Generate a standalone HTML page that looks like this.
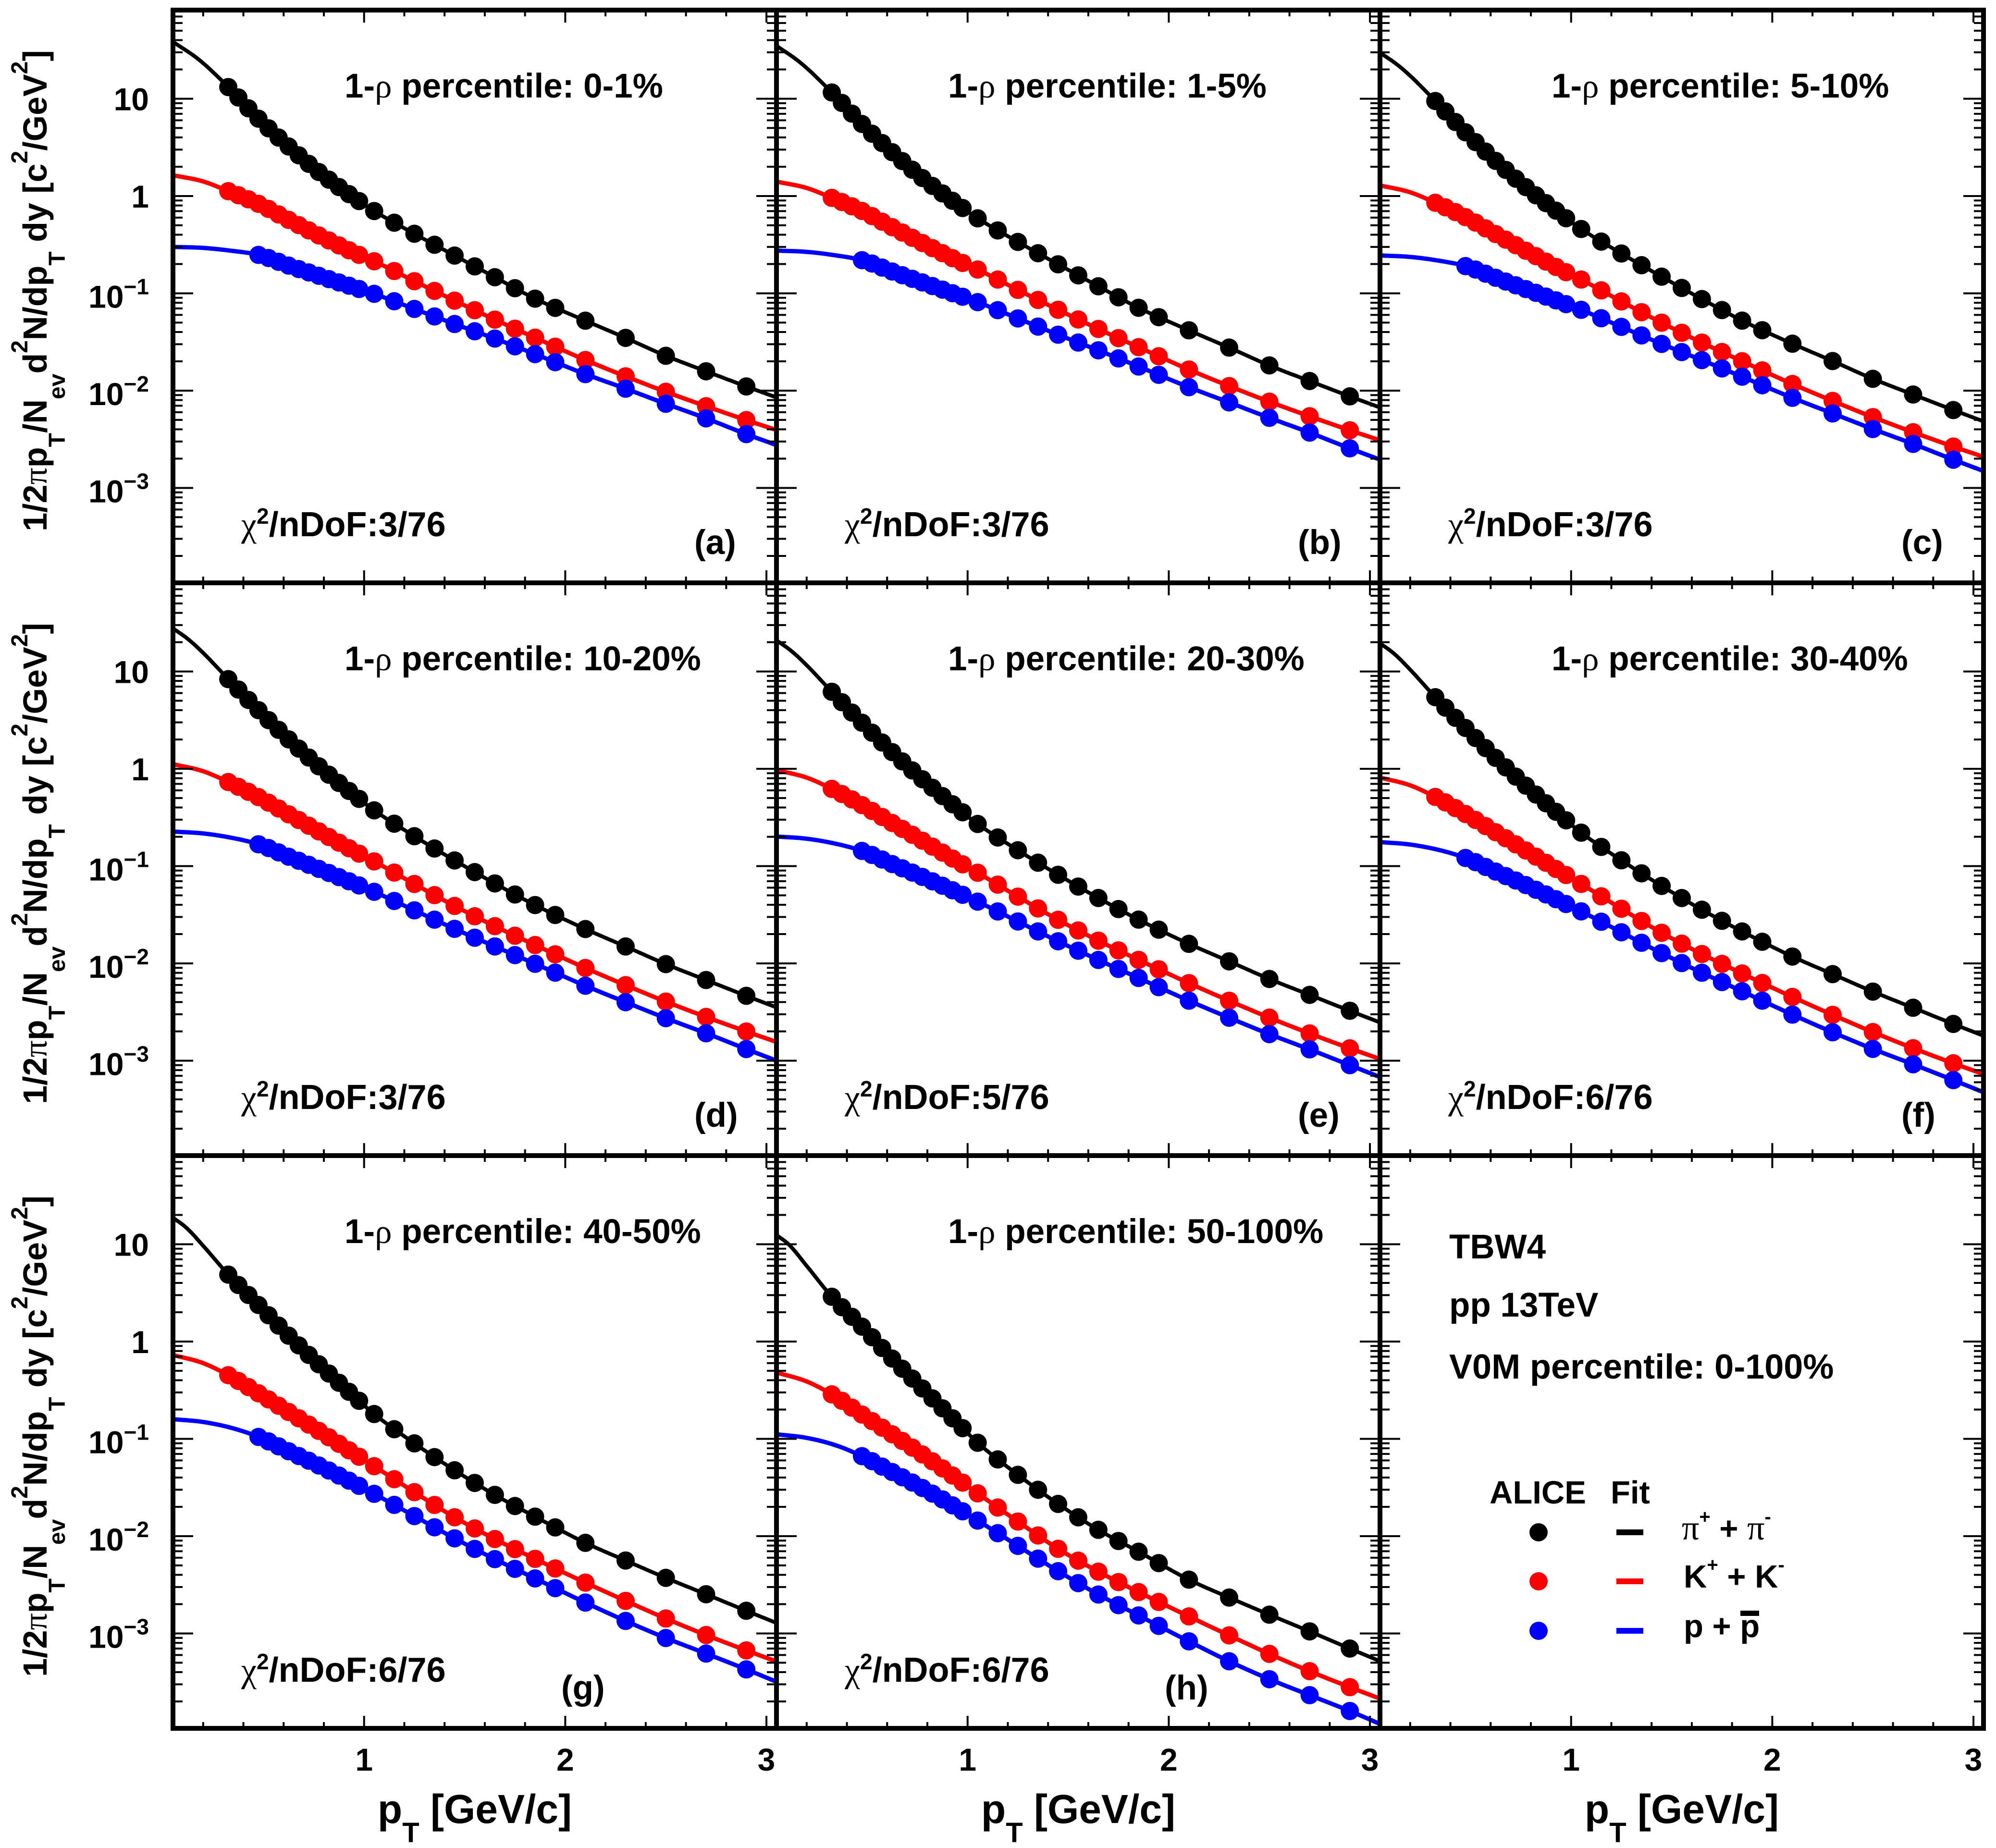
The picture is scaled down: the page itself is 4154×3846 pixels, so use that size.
<!DOCTYPE html>
<html><head><meta charset="utf-8">
<style>
html,body{margin:0;padding:0;background:#fff;overflow:hidden;}
svg{display:block;}
text{font-family:"Liberation Sans",Arial,sans-serif;font-weight:bold;fill:#000;}
.gr{font-family:"Liberation Serif","DejaVu Serif",serif;font-weight:normal;}
.t{font-size:71px;}
.c2{font-size:72px;}
.tl{font-size:66px;}
.xt{font-size:84px;}
.yt{font-size:70px;}
.lg{font-size:67px;}
</style></head>
<body>
<svg id="root" xmlns="http://www.w3.org/2000/svg" width="4154" height="3846" viewBox="0 0 4154 3846">
<rect x="0" y="0" width="4154" height="3846" fill="#fff"/>
<g id="plots"></g>

<!-- panel titles -->
<text class="t" x="717" y="203">1-<tspan class="gr">ρ</tspan> percentile: 0-1%</text>
<text class="t" x="1973" y="203">1-<tspan class="gr">ρ</tspan> percentile: 1-5%</text>
<text class="t" x="3229" y="203">1-<tspan class="gr">ρ</tspan> percentile: 5-10%</text>
<text class="t" x="717" y="1395">1-<tspan class="gr">ρ</tspan> percentile: 10-20%</text>
<text class="t" x="1973" y="1395">1-<tspan class="gr">ρ</tspan> percentile: 20-30%</text>
<text class="t" x="3229" y="1395">1-<tspan class="gr">ρ</tspan> percentile: 30-40%</text>
<text class="t" x="717" y="2587">1-<tspan class="gr">ρ</tspan> percentile: 40-50%</text>
<text class="t" x="1973" y="2587">1-<tspan class="gr">ρ</tspan> percentile: 50-100%</text>

<!-- chi2 -->
<text class="c2" x="502" y="1116"><tspan class="gr">χ</tspan><tspan dy="-26" font-size="46">2</tspan><tspan dy="26">/nDoF:3/76</tspan></text>
<text class="c2" x="1758" y="1116"><tspan class="gr">χ</tspan><tspan dy="-26" font-size="46">2</tspan><tspan dy="26">/nDoF:3/76</tspan></text>
<text class="c2" x="3014" y="1116"><tspan class="gr">χ</tspan><tspan dy="-26" font-size="46">2</tspan><tspan dy="26">/nDoF:3/76</tspan></text>
<text class="c2" x="502" y="2308"><tspan class="gr">χ</tspan><tspan dy="-26" font-size="46">2</tspan><tspan dy="26">/nDoF:3/76</tspan></text>
<text class="c2" x="1758" y="2308"><tspan class="gr">χ</tspan><tspan dy="-26" font-size="46">2</tspan><tspan dy="26">/nDoF:5/76</tspan></text>
<text class="c2" x="3014" y="2308"><tspan class="gr">χ</tspan><tspan dy="-26" font-size="46">2</tspan><tspan dy="26">/nDoF:6/76</tspan></text>
<text class="c2" x="502" y="3500"><tspan class="gr">χ</tspan><tspan dy="-26" font-size="46">2</tspan><tspan dy="26">/nDoF:6/76</tspan></text>
<text class="c2" x="1758" y="3500"><tspan class="gr">χ</tspan><tspan dy="-26" font-size="46">2</tspan><tspan dy="26">/nDoF:6/76</tspan></text>

<!-- panel letters -->
<text class="t" x="1445" y="1153">(a)</text>
<text class="t" x="2701" y="1153">(b)</text>
<text class="t" x="3957" y="1153">(c)</text>
<text class="t" x="1445" y="2345">(d)</text>
<text class="t" x="2701" y="2345">(e)</text>
<text class="t" x="3957" y="2345">(f)</text>
<text class="t" x="1168" y="3537">(g)</text>
<text class="t" x="2424" y="3537">(h)</text>

<!-- y tick labels row 1 -->
<text class="tl" x="310" y="229.5" text-anchor="end">10</text>
<text class="tl" x="310" y="432" text-anchor="end">1</text>
<text class="tl" x="310" y="640.5" text-anchor="end">10<tspan dy="-28" font-size="46">−1</tspan></text>
<text class="tl" x="310" y="843" text-anchor="end">10<tspan dy="-28" font-size="46">−2</tspan></text>
<text class="tl" x="310" y="1045.5" text-anchor="end">10<tspan dy="-28" font-size="46">−3</tspan></text>
<!-- row 2 -->
<text class="tl" x="310" y="1421.5" text-anchor="end">10</text>
<text class="tl" x="310" y="1624" text-anchor="end">1</text>
<text class="tl" x="310" y="1832.5" text-anchor="end">10<tspan dy="-28" font-size="46">−1</tspan></text>
<text class="tl" x="310" y="2035" text-anchor="end">10<tspan dy="-28" font-size="46">−2</tspan></text>
<text class="tl" x="310" y="2237.5" text-anchor="end">10<tspan dy="-28" font-size="46">−3</tspan></text>
<!-- row 3 -->
<text class="tl" x="310" y="2613.5" text-anchor="end">10</text>
<text class="tl" x="310" y="2816" text-anchor="end">1</text>
<text class="tl" x="310" y="3024.5" text-anchor="end">10<tspan dy="-28" font-size="46">−1</tspan></text>
<text class="tl" x="310" y="3227" text-anchor="end">10<tspan dy="-28" font-size="46">−2</tspan></text>
<text class="tl" x="310" y="3429.5" text-anchor="end">10<tspan dy="-28" font-size="46">−3</tspan></text>

<!-- x tick labels -->
<text class="tl" x="757.7" y="3685" text-anchor="middle">1</text>
<text class="tl" x="1176.3" y="3685" text-anchor="middle">2</text>
<text class="tl" x="1595" y="3685" text-anchor="middle">3</text>
<text class="tl" x="2013.7" y="3685" text-anchor="middle">1</text>
<text class="tl" x="2432.3" y="3685" text-anchor="middle">2</text>
<text class="tl" x="2851" y="3685" text-anchor="middle">3</text>
<text class="tl" x="3269.7" y="3685" text-anchor="middle">1</text>
<text class="tl" x="3688.3" y="3685" text-anchor="middle">2</text>
<text class="tl" x="4107" y="3685" text-anchor="middle">3</text>

<!-- x titles -->
<text class="xt" x="988" y="3794" text-anchor="middle">p<tspan dy="40" font-size="58">T</tspan><tspan dy="-40"> [GeV/c]</tspan></text>
<text class="xt" x="2244" y="3794" text-anchor="middle">p<tspan dy="40" font-size="58">T</tspan><tspan dy="-40"> [GeV/c]</tspan></text>
<text class="xt" x="3500" y="3794" text-anchor="middle">p<tspan dy="40" font-size="58">T</tspan><tspan dy="-40"> [GeV/c]</tspan></text>

<!-- y titles -->
<text class="yt" transform="translate(97,605) rotate(-90)" text-anchor="middle">1/2<tspan class="gr">π</tspan>p<tspan dy="38" font-size="48">T</tspan><tspan dy="-38">/N</tspan><tspan dy="38" font-size="48">ev</tspan><tspan dy="-38">d</tspan><tspan dy="-40" font-size="48">2</tspan><tspan dy="40">N/dp</tspan><tspan dy="38" font-size="48">T</tspan><tspan dy="-38"> dy [c</tspan><tspan dy="-40" font-size="48">2</tspan><tspan dy="40">/GeV</tspan><tspan dy="-40" font-size="48">2</tspan><tspan dy="40">]</tspan></text>
<text class="yt" transform="translate(97,1797) rotate(-90)" text-anchor="middle">1/2<tspan class="gr">π</tspan>p<tspan dy="38" font-size="48">T</tspan><tspan dy="-38">/N</tspan><tspan dy="38" font-size="48">ev</tspan><tspan dy="-38">d</tspan><tspan dy="-40" font-size="48">2</tspan><tspan dy="40">N/dp</tspan><tspan dy="38" font-size="48">T</tspan><tspan dy="-38"> dy [c</tspan><tspan dy="-40" font-size="48">2</tspan><tspan dy="40">/GeV</tspan><tspan dy="-40" font-size="48">2</tspan><tspan dy="40">]</tspan></text>
<text class="yt" transform="translate(97,2989) rotate(-90)" text-anchor="middle">1/2<tspan class="gr">π</tspan>p<tspan dy="38" font-size="48">T</tspan><tspan dy="-38">/N</tspan><tspan dy="38" font-size="48">ev</tspan><tspan dy="-38">d</tspan><tspan dy="-40" font-size="48">2</tspan><tspan dy="40">N/dp</tspan><tspan dy="38" font-size="48">T</tspan><tspan dy="-38"> dy [c</tspan><tspan dy="-40" font-size="48">2</tspan><tspan dy="40">/GeV</tspan><tspan dy="-40" font-size="48">2</tspan><tspan dy="40">]</tspan></text>

<!-- info panel -->
<text x="3016" y="2619" font-size="71">TBW4</text>
<text x="3016" y="2740" font-size="71">pp 13TeV</text>
<text x="3016" y="2869" font-size="72">V0M percentile: 0-100%</text>

<!-- legend -->
<text class="lg" x="3100" y="3129">ALICE</text>
<text class="lg" x="3352" y="3129">Fit</text>
<circle cx="3202" cy="3189" r="19" fill="#000"/>
<circle cx="3202" cy="3291" r="19" fill="#f00"/>
<circle cx="3202" cy="3394" r="19" fill="#00f"/>
<rect x="3364" y="3183" width="56" height="12" fill="#000"/>
<rect x="3364" y="3285" width="56" height="12" fill="#f00"/>
<rect x="3364" y="3388" width="56" height="12" fill="#00f"/>
<text class="lg" x="3500" y="3204"><tspan class="gr" font-size="72">π</tspan><tspan dy="-34" font-size="40">+</tspan><tspan dy="34"> + </tspan><tspan class="gr" font-size="72">π</tspan><tspan dy="-34" font-size="40">-</tspan></text>
<text class="lg" x="3504" y="3304">K<tspan dy="-34" font-size="40">+</tspan><tspan dy="34"> + K</tspan><tspan dy="-34" font-size="40">-</tspan></text>
<text class="lg" x="3504" y="3407">p + p</text>
<rect x="3622" y="3352" width="39" height="11" fill="#000"/>
</svg>

<script>
(function(){
var NS="http://www.w3.org/2000/svg";
var root=document.getElementById('plots');
function el(tag,attrs,parent){var e=document.createElementNS(NS,tag);for(var k in attrs)e.setAttribute(k,attrs[k]);(parent||root).appendChild(e);return e;}
var colX=[360,1616,2872], rowY=[21,1213,2405], W=1256, H=1192, PX=418.667, DEC=202.5, TOP=1.911;
function X(c,p){return colX[c]+(p-0.05)*PX;}
function Y(r,l){return rowY[r]+(TOP-l)*DEC;}
function mono(pts){
  var n=pts.length,xs=[],ys=[],d=[],m=[],i;
  for(i=0;i<n;i++){xs.push(pts[i][0]);ys.push(pts[i][1]);}
  for(i=0;i<n-1;i++)d.push((ys[i+1]-ys[i])/(xs[i+1]-xs[i]));
  m[0]=d[0];m[n-1]=d[n-2];
  for(i=1;i<n-1;i++){ if(d[i-1]*d[i]<=0)m[i]=0; else m[i]=(d[i-1]+d[i])/2; }
  for(i=0;i<n-1;i++){ if(d[i]==0){m[i]=0;m[i+1]=0;continue;} var a=m[i]/d[i],b=m[i+1]/d[i],s=a*a+b*b; if(s>9){var t=3/Math.sqrt(s);m[i]=t*a*d[i];m[i+1]=t*b*d[i];} }
  return function(x){
    var i=0; while(i<n-2 && x>xs[i+1]) i++;
    var h=xs[i+1]-xs[i], t=(x-xs[i])/h, t2=t*t, t3=t2*t;
    return (2*t3-3*t2+1)*ys[i]+(t3-2*t2+t)*h*m[i]+(-2*t3+3*t2)*ys[i+1]+(t3-t2)*h*m[i+1];
  };
}
var A={
 k:mono([[0.05,1.585],[0.18,1.40],[0.325,1.12],[0.475,0.795],[0.625,0.509],[0.775,0.247],[0.975,-0.052],[1.05,-0.154],[1.25,-0.388],[1.45,-0.612],[1.65,-0.834],[1.85,-1.055],[2.1,-1.281],[2.3,-1.458],[2.5,-1.642],[2.7,-1.801],[2.9,-1.957],[3.05,-2.07]]),
 r:mono([[0.05,0.214],[0.2,0.15],[0.325,0.05],[0.475,-0.08],[0.625,-0.245],[0.775,-0.405],[0.975,-0.605],[1.05,-0.67],[1.25,-0.875],[1.45,-1.075],[1.65,-1.27],[1.85,-1.456],[2.1,-1.685],[2.3,-1.853],[2.5,-2.012],[2.7,-2.16],[2.9,-2.303],[3.05,-2.405]]),
 b:mono([[0.05,-0.523],[0.2,-0.533],[0.35,-0.565],[0.475,-0.605],[0.625,-0.715],[0.775,-0.82],[0.975,-0.955],[1.05,-1.005],[1.25,-1.16],[1.45,-1.315],[1.65,-1.465],[1.85,-1.625],[2.1,-1.83],[2.3,-1.98],[2.5,-2.135],[2.7,-2.285],[2.9,-2.447],[3.05,-2.56]])
};
var Hh={
 k:mono([[0.05,1.094],[0.11,1.0],[0.21,0.752],[0.325,0.46],[0.475,0.153],[0.625,-0.175],[0.775,-0.482],[0.975,-0.89],[1.05,-1.04],[1.25,-1.37],[1.45,-1.669],[1.65,-1.935],[1.85,-2.16],[2.1,-2.447],[2.3,-2.631],[2.5,-2.807],[2.7,-2.979],[2.9,-3.155],[3.05,-3.285]]),
 r:mono([[0.05,-0.318],[0.2,-0.41],[0.325,-0.543],[0.475,-0.75],[0.625,-0.953],[0.775,-1.16],[0.975,-1.45],[1.05,-1.56],[1.25,-1.85],[1.45,-2.13],[1.65,-2.365],[1.85,-2.575],[2.1,-2.825],[2.3,-3.02],[2.5,-3.21],[2.7,-3.388],[2.9,-3.552],[3.05,-3.67]]),
 b:mono([[0.05,-0.953],[0.2,-0.99],[0.35,-1.07],[0.475,-1.178],[0.625,-1.341],[0.775,-1.505],[0.975,-1.745],[1.05,-1.84],[1.25,-2.1],[1.45,-2.36],[1.65,-2.6],[1.85,-2.815],[2.1,-3.081],[2.3,-3.286],[2.5,-3.47],[2.7,-3.634],[2.9,-3.797],[3.05,-3.93]])
};
var P={
 k:{t:[0,0.085,0.185,0.331,0.375,0.522,0.703,1],c:[0,0,-0.021,0.02,-0.081,-0.04,0.032,0]},
 r:{t:[0,0.054,0.233,0.322,0.478,0.586,0.725,1],c:[0,-0.037,0.019,0.005,0.027,0.008,0.034,0]},
 b:{t:[0,0.118,0.19,0.338,0.463,0.568,0.704,1],c:[0,0.013,-0.006,0.023,0.026,0.014,0.028,0]}
};
var panels=[[0,0],[1,0],[2,0],[0,1],[1,1],[2,1],[0,2],[1,2]];
var pk=[],i;
for(i=0;i<14;i++)pk.push(0.325+0.05*i);
for(i=0;i<10;i++)pk.push(1.05+0.1*i);
for(i=0;i<5;i++)pk.push(2.1+0.2*i);
var pp=pk.filter(function(p){return p>0.45;});
var col={k:"#000",r:"#f00",b:"#00f"}, lw={k:8,r:9,b:9};
var defs=el('defs',{});
panels.forEach(function(pn,idx){
  var c=pn[0],r=pn[1];
  var cp=el('clipPath',{id:'cp'+idx},defs);
  el('rect',{x:colX[c],y:rowY[r],width:W,height:H},cp);
  var g=el('g',{'clip-path':'url(#cp'+idx+')'});
  ['k','r','b'].forEach(function(s){
    var t=P[s].t[idx],cc=P[s].c[idx];
    var f=function(p){return (1-t)*A[s](p)+t*Hh[s](p)+cc;};
    var pts=s==='b'?pp:pk;
    pts.forEach(function(p){ el('circle',{cx:X(c,p).toFixed(1),cy:Y(r,f(p)).toFixed(1),r:19,fill:col[s]},g); });
    var d='';
    for(var q=0.05;q<=3.0501;q+=0.01){ d+=(d?'L':'M')+X(c,q).toFixed(1)+','+Y(r,f(q)).toFixed(1); }
    el('path',{d:d,fill:'none',stroke:col[s],'stroke-width':lw[s],'stroke-linejoin':'round'},g);
  });
});
for(var r=0;r<3;r++)for(var c=0;c<3;c++){
  var x0=colX[c],y0=rowY[r],x1=x0+W,y1=y0+H,k,p,len,x,y;
  var tg=el('g',{stroke:'#000','stroke-width':4});
  for(k=1;k<=15;k++){
    p=0.2*k; x=X(c,p); len=(k%5===0)?26:13;
    el('line',{x1:x,y1:y1,x2:x,y2:y1-len},tg);
    el('line',{x1:x,y1:y0,x2:x,y2:y0+len},tg);
  }
  for(var e=-4;e<=1;e++)for(var mm=1;mm<=9;mm++){
    var l=Math.log(mm*Math.pow(10,e))/Math.LN10;
    y=Y(r,l); if(y<y0+3||y>y1-3)continue;
    len=(mm===1)?42:20;
    el('line',{x1:x0,y1:y,x2:x0+len,y2:y},tg);
    el('line',{x1:x1,y1:y,x2:x1-len,y2:y},tg);
  }
  el('rect',{x:x0,y:y0,width:W,height:H,fill:'none',stroke:'#000','stroke-width':10});
}
})();
</script>
</body></html>
